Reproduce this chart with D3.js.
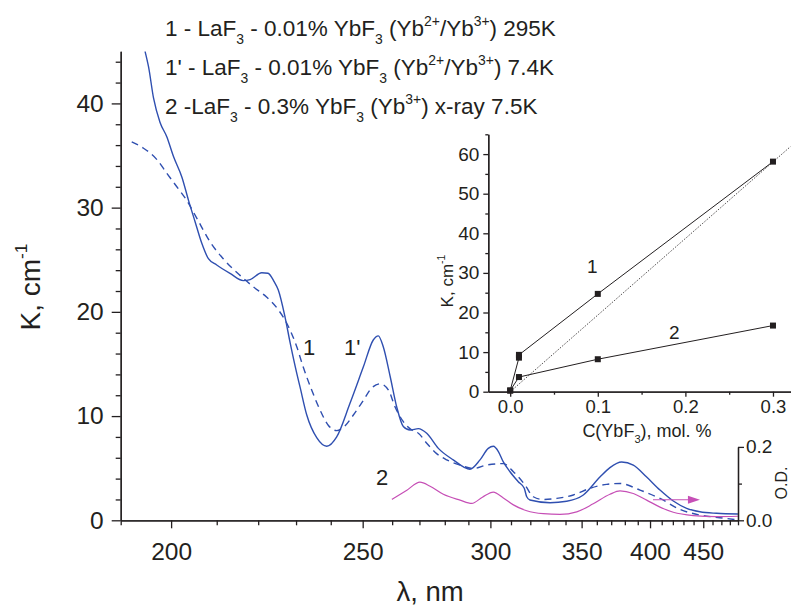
<!DOCTYPE html>
<html>
<head>
<meta charset="utf-8">
<script src="https://cdn.jsdelivr.net/npm/d3@7"></script>
<style>
  html, body { margin: 0; padding: 0; background: #fff; }
  svg { display: block; font-family: "Liberation Sans", Arial, sans-serif; }
  text { fill: #231f20; }
</style>
</head>
<body>
<svg id="chart" width="792" height="608"></svg>
<script>
/**
 * @fileoverview absorption spectra of LaF3:Yb with an inset of K vs concentration
 */

// curve 1 : 295K, solid
const curve1Lambda = [194.7, 195.4, 196.4, 197.7, 199.1, 200.5, 202.3, 203.7, 205.1, 206.6, 208.1, 210.0, 213.1, 216.3, 218.0, 220.9, 222.5, 224.1, 225.2, 227.0, 228.4, 230.2, 231.1, 233.0, 235.9, 238.8, 241.8, 245.9, 250.2, 253.5, 255.2, 256.9, 259.3, 261.6, 264.0, 266.5, 269.6, 272.8, 277.4, 283.5, 290.7, 295.2, 299.0, 301.4, 303.8, 306.2, 309.5, 313.7, 316.8, 318.1, 319.8, 330.9, 340.7, 351.1, 362.1, 369.1, 377.6, 386.5, 397.2, 408.5, 420.4, 433.1, 446.5, 464.6, 489.9];
const curve1K = [45, 43.5, 40.5, 38.2, 36.8, 34.9, 32.9, 30.7, 28.7, 26.6, 25.1, 24.5, 23.7, 23.0, 23.1, 23.75, 23.7, 22.9, 22.1, 19.5, 17.0, 14.1, 12.8, 10.1, 7.9, 7.1, 8.0, 11.2, 14.7, 17.3, 17.7, 16.65, 13.8, 10.9, 9.0, 8.66, 8.8, 8.35, 6.9, 5.8, 4.9, 5.8, 6.9, 7.1, 6.6, 5.6, 4.66, 3.7, 3.07, 2.26, 1.95, 1.69, 1.83, 2.43, 4.15, 5.06, 5.6, 5.3, 4.15, 2.9, 1.85, 1.15, 0.82, 0.67, 0.6];

// curve 1' : 7.4K, dashed
const curve1pLambda = [192.1, 194.4, 197.1, 199.1, 201.2, 203.3, 205.5, 208.5, 211.5, 215.5, 218.8, 222.2, 225.2, 227.9, 230.2, 232.0, 234.4, 236.8, 239.3, 241.8, 243.8, 247.0, 250.2, 253.0, 255.8, 258.7, 261.0, 264.0, 267.1, 269.6, 272.8, 276.7, 280.8, 286.4, 292.2, 298.3, 306.2, 311.2, 317.2, 321.6, 327.1, 334.8, 344.8, 355.4, 366.8, 376.4, 391.8, 408.5, 426.6, 446.5, 468.3, 489.9];
const curve1pK = [36.3, 35.7, 34.6, 33.3, 32.0, 30.7, 29.0, 26.7, 25.1, 23.5, 22.4, 21.4, 20.2, 18.6, 16.65, 14.7, 12.5, 10.6, 9.1, 8.6, 8.9, 10.1, 11.5, 12.7, 13.1, 12.5, 10.9, 9.46, 8.66, 8.35, 7.4, 6.4, 5.8, 5.3, 4.97, 5.3, 5.44, 4.66, 3.39, 2.26, 2.0, 2.1, 2.43, 3.07, 3.45, 3.53, 2.9, 2.1, 1.05, 0.5, 0.25, 0.03];

// curve 2 : x-ray 7.5K, optical density (right axis)
const curve2Lambda = [259.9, 265.3, 270.2, 274.1, 279.4, 286.4, 291.5, 296.3, 301.4, 306.2, 311.2, 318.1, 327.1, 336.7, 346.9, 357.6, 369.1, 376.4, 386.5, 397.2, 408.5, 420.4, 439.7, 464.6, 489.9];
const curve2OD = [0.057, 0.082, 0.104, 0.093, 0.071, 0.055, 0.046, 0.063, 0.077, 0.061, 0.042, 0.026, 0.018, 0.016, 0.023, 0.045, 0.071, 0.080, 0.073, 0.055, 0.036, 0.022, 0.013, 0.010, 0.011];
const arrowLambda = [402.5, 446.5];
const arrowOD = 0.056;

const xTickLabels = [200, 250, 300, 350, 400, 450];
const yTickLabels = [0, 10, 20, 30, 40];
const odTickLabels = [0.0, 0.2];

// inset
const insetConc1 = [0, 0.01, 0.01, 0.1, 0.3];
const insetK1 = [0.3, 8.6, 9.3, 24.7, 58.1];
const insetConc2 = [0, 0.01, 0.1, 0.3];
const insetK2 = [0.3, 3.7, 8.2, 16.7];
const insetLinearConc = [0, 0.32];
const insetLinearK = [0, 61.9];
const insetXTicks = [0.0, 0.1, 0.2, 0.3];
const insetYTicks = [0, 10, 20, 30, 40, 50, 60];

const legendLines = [
  ['1 - LaF', ['3', 'sub'], ' - 0.01% YbF', ['3', 'sub'], ' (Yb', ['2+', 'sup'], '/Yb', ['3+', 'sup'], ') 295K'],
  ['1\' - LaF', ['3', 'sub'], ' - 0.01% YbF', ['3', 'sub'], ' (Yb', ['2+', 'sup'], '/Yb', ['3+', 'sup'], ') 7.4K'],
  ['2 -LaF', ['3', 'sub'], ' - 0.3% YbF', ['3', 'sub'], ' (Yb', ['3+', 'sup'], ') x-ray 7.5K']
];

const BLUE = '#2f4fb0';
const MAGENTA = '#c64fb6';
const INK = '#231f20';

const svg = d3.select('#chart');

// text with sub/superscripts
const richText = (parent, x, y, parts, size, anchor = 'start') => {
  const text = parent.append('text')
    .attr('x', x).attr('y', y)
    .attr('font-size', size)
    .attr('text-anchor', anchor);
  let shift = 0;
  parts.forEach(part => {
    const [str, kind] = typeof part === 'string' ? [part, null] : part;
    const target = kind === 'sub' ? size * 0.36 : kind === 'sup' ? -size * 0.45 : 0;
    text.append('tspan')
      .attr('dy', target - shift)
      .attr('font-size', kind ? size * 0.62 : size)
      .text(str);
    shift = target;
  });
  return text;
};

// ---- main plot ----
// the wavelength axis is linear in 1/λ
const x = d3.scaleLinear().domain([1 / 190, 1 / 490]).range([120.7, 738]);
const xl = lambda => x(1 / lambda);
const y = d3.scaleLinear().domain([0, 45]).range([520.3, 51.3]);
const yOD = d3.scaleLinear().domain([0, 0.2]).range([520.3, 446.9]);

svg.append('clipPath').attr('id', 'plotclip')
  .append('rect').attr('x', 120.7).attr('y', 51.3).attr('width', 618).attr('height', 470);

const toPoints = (xs, ys) => xs.map((v, i) => [v, ys[i]]);

const spectrum = d3.line()
  .x(d => xl(d[0]))
  .y(d => y(d[1]))
  .curve(d3.curveMonotoneX);

const plot = svg.append('g').attr('clip-path', 'url(#plotclip)');

plot.append('path')
  .attr('d', spectrum(toPoints(curve1pLambda, curve1pK)))
  .attr('fill', 'none')
  .attr('stroke', BLUE)
  .attr('stroke-width', 1.4)
  .attr('stroke-dasharray', '7,5');

plot.append('path')
  .attr('d', spectrum(toPoints(curve1Lambda, curve1K)))
  .attr('fill', 'none')
  .attr('stroke', BLUE)
  .attr('stroke-width', 1.4);

const odLine = d3.line()
  .x(d => xl(d[0]))
  .y(d => yOD(d[1]))
  .curve(d3.curveMonotoneX);

plot.append('path')
  .attr('d', odLine(toPoints(curve2Lambda, curve2OD)))
  .attr('fill', 'none')
  .attr('stroke', MAGENTA)
  .attr('stroke-width', 1.2);

// arrow pointing to the O.D. axis
const ax0 = xl(arrowLambda[0]);
const ax1 = xl(arrowLambda[1]);
const ay = yOD(arrowOD);
svg.append('line')
  .attr('x1', ax0).attr('x2', ax1 - 8)
  .attr('y1', ay).attr('y2', ay)
  .attr('stroke', MAGENTA).attr('stroke-width', 1.2);
svg.append('path')
  .attr('d', `M${ax1},${ay}L${ax1 - 12},${ay - 4}L${ax1 - 12},${ay + 4}Z`)
  .attr('fill', MAGENTA);

// axes
const styleAxis = g => {
  g.select('.domain').attr('stroke', INK).attr('stroke-width', 1.3);
  g.selectAll('.tick line').attr('stroke', INK).attr('stroke-width', 1.3);
  g.selectAll('.tick text').attr('fill', INK).attr('font-family', '"Liberation Sans", Arial, sans-serif');
};

const minorLambda = d3.range(190, 491, 10).filter(v => !xTickLabels.includes(v));

svg.append('g')
  .attr('transform', 'translate(0,520.3)')
  .call(d3.axisBottom(x).tickValues(minorLambda.map(v => 1 / v)).tickSize(5).tickFormat('').tickSizeOuter(0))
  .call(styleAxis);

svg.append('g')
  .attr('transform', 'translate(0,520.3)')
  .call(d3.axisBottom(x).tickValues(xTickLabels.map(v => 1 / v)).tickSize(8).tickSizeOuter(0)
    .tickPadding(14).tickFormat(v => Math.round(1 / v)))
  .call(styleAxis)
  .call(g => g.selectAll('.tick text').attr('font-size', 24.5));

svg.append('g')
  .attr('transform', 'translate(120.7,0)')
  .call(d3.axisLeft(y).tickValues(d3.range(0, 45.1, 2).filter(v => v % 10 !== 0)).tickSize(5).tickFormat('').tickSizeOuter(0))
  .call(styleAxis);

svg.append('g')
  .attr('transform', 'translate(120.7,0)')
  .call(d3.axisLeft(y).tickValues(yTickLabels).tickSize(9).tickPadding(8).tickSizeOuter(0))
  .call(styleAxis)
  .call(g => g.selectAll('.tick text').attr('font-size', 24.5));

// right O.D. axis
svg.append('g')
  .attr('transform', 'translate(738,0)')
  .call(d3.axisRight(yOD).tickValues([0.1]).tickSize(4).tickFormat('').tickSizeOuter(0))
  .call(styleAxis);

svg.append('g')
  .attr('transform', 'translate(738,0)')
  .call(d3.axisRight(yOD).tickValues(odTickLabels).tickSize(6).tickPadding(2).tickSizeOuter(0)
    .tickFormat(d3.format('.1f')))
  .call(styleAxis)
  .call(g => g.selectAll('.tick text').attr('font-size', 19));

svg.append('text')
  .attr('transform', 'translate(787,483) rotate(-90)')
  .attr('text-anchor', 'middle')
  .attr('font-size', 16)
  .text('O.D.');

// axis titles
richText(svg.append('g').attr('transform', 'translate(40,287) rotate(-90)'),
  0, 0, ['K, cm', ['-1', 'sup']], 28, 'middle');

svg.append('text')
  .attr('x', 430).attr('y', 601)
  .attr('text-anchor', 'middle')
  .attr('font-size', 27.5)
  .text('λ, nm');

// legend
legendLines.forEach((parts, i) => {
  richText(svg, 165, 36 + i * 39, parts, 22.5);
});

// curve labels
svg.append('text').attr('x', 303).attr('y', 355).attr('font-size', 22).text('1');
svg.append('text').attr('x', 344).attr('y', 355).attr('font-size', 22).text('1\'');
svg.append('text').attr('x', 376).attr('y', 485).attr('font-size', 22).text('2');

// ---- inset ----
const ix = d3.scaleLinear().domain([-0.025, 0.32]).range([488.3, 790.5]);
const iy = d3.scaleLinear().domain([0, 65]).range([391.7, 134.3]);

const inset = svg.append('g');

inset.append('path')
  .attr('d', d3.line().x(d => ix(d[0])).y(d => iy(d[1]))(toPoints(insetLinearConc, insetLinearK)))
  .attr('fill', 'none')
  .attr('stroke', INK)
  .attr('stroke-width', 0.8)
  .attr('stroke-dasharray', '1.5,1.5');

const insetLine = d3.line().x(d => ix(d[0])).y(d => iy(d[1]));

[[insetConc1, insetK1], [insetConc2, insetK2]].forEach(([cs, ks]) => {
  const pts = toPoints(cs, ks);
  inset.append('path')
    .attr('d', insetLine(pts))
    .attr('fill', 'none')
    .attr('stroke', INK)
    .attr('stroke-width', 1);
  inset.selectAll(null)
    .data(pts)
    .join('rect')
    .attr('x', d => ix(d[0]) - 3)
    .attr('y', d => iy(d[1]) - 3)
    .attr('width', 6)
    .attr('height', 6)
    .attr('fill', INK);
});

inset.append('g')
  .attr('transform', 'translate(0,391.7)')
  .call(d3.axisBottom(ix).tickValues([0.05, 0.15, 0.25]).tickSize(3).tickFormat('').tickSizeOuter(0))
  .call(styleAxis);

inset.append('g')
  .attr('transform', 'translate(0,391.7)')
  .call(d3.axisBottom(ix).tickValues(insetXTicks).tickSize(5).tickPadding(3).tickSizeOuter(0)
    .tickFormat(d3.format('.1f')))
  .call(styleAxis)
  .call(g => g.selectAll('.tick text').attr('font-size', 18.5));

inset.append('g')
  .attr('transform', 'translate(488.3,0)')
  .call(d3.axisLeft(iy).tickValues(d3.range(5, 66, 10)).tickSize(3).tickFormat('').tickSizeOuter(0))
  .call(styleAxis);

inset.append('g')
  .attr('transform', 'translate(488.3,0)')
  .call(d3.axisLeft(iy).tickValues(insetYTicks).tickSize(5).tickPadding(4).tickSizeOuter(0))
  .call(styleAxis)
  .call(g => g.selectAll('.tick text').attr('font-size', 19));

richText(inset.append('g').attr('transform', 'translate(453,281) rotate(-90)'),
  0, 0, ['K, cm', ['-1', 'sup']], 17, 'middle');

richText(inset, 647, 437, ['C(YbF', ['3', 'sub'], '), mol. %'], 18, 'middle');

inset.append('text').attr('x', 587).attr('y', 273).attr('font-size', 19).text('1');
inset.append('text').attr('x', 669).attr('y', 339).attr('font-size', 19).text('2');
</script>
</body>
</html>
